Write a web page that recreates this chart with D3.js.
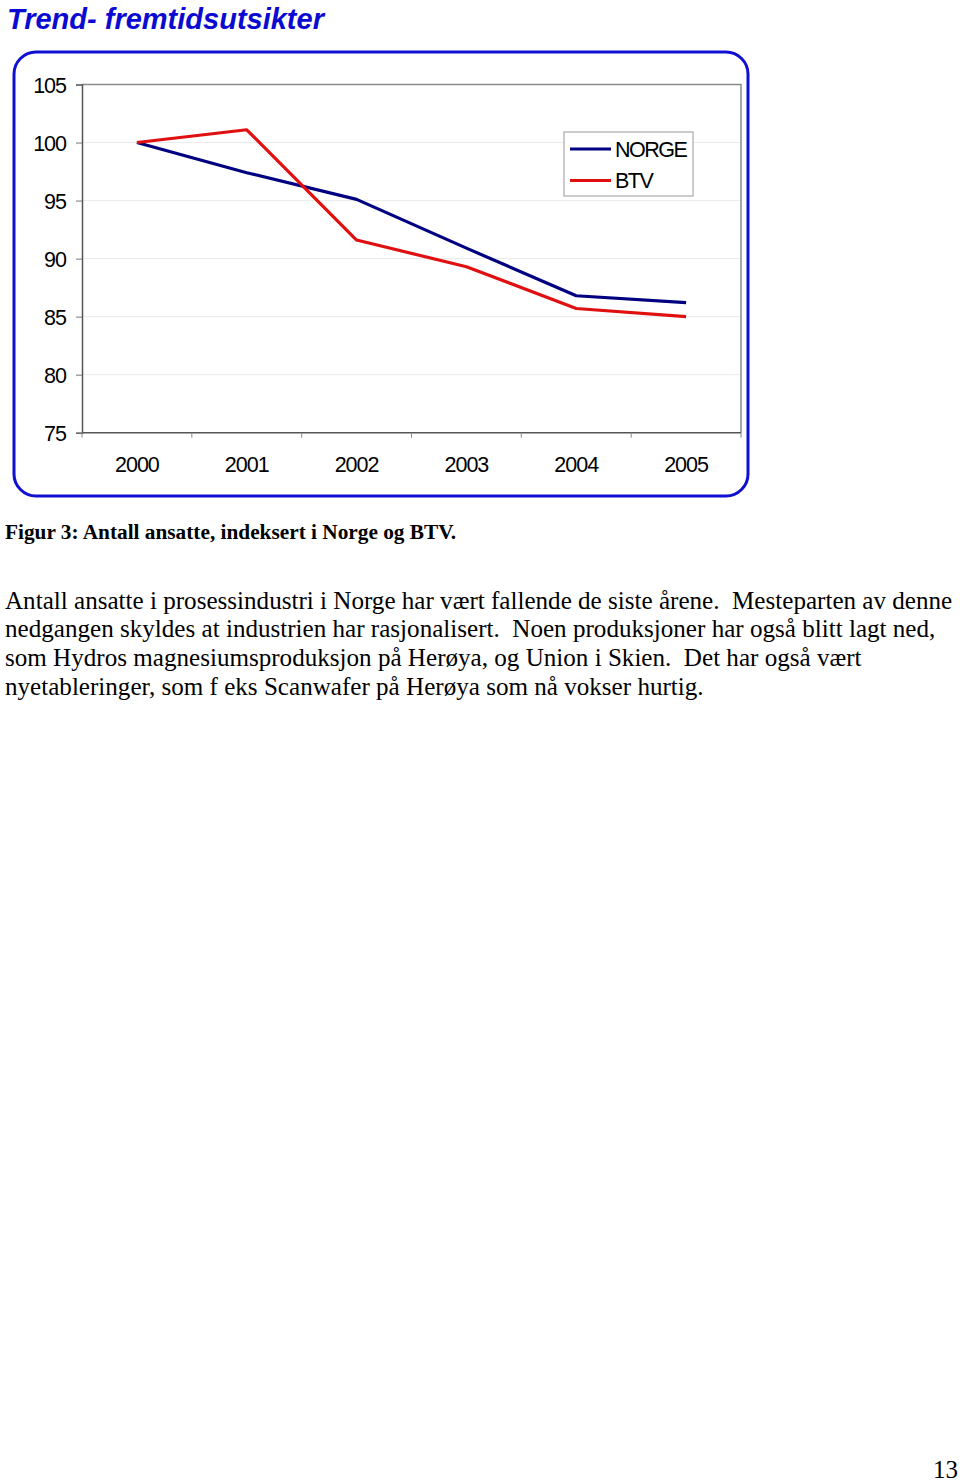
<!DOCTYPE html>
<html><head><meta charset="utf-8">
<script src="https://cdn.jsdelivr.net/npm/d3@7"></script>
<style>body{margin:0;background:#fff}svg{display:block}</style>
</head><body>
<script>
const years = ["2000","2001","2002","2003","2004","2005"];
const norge = [100, 97.4, 95.1, 90.9, 86.8, 86.2];
const btv = [100, 101.1, 91.6, 89.3, 85.7, 85.0];
const yTicks = [75, 80, 85, 90, 95, 100, 105];
const seriesNames = ["NORGE", "BTV"];
const seriesColors = ["#000080", "#e01010"];
const titleText = "Trend- fremtidsutsikter";
const captionText = "Figur 3: Antall ansatte, indeksert i Norge og BTV.";
const bodyLines = [
  "Antall ansatte i prosessindustri i Norge har vært fallende de siste årene.  Mesteparten av denne",
  "nedgangen skyldes at industrien har rasjonalisert.  Noen produksjoner har også blitt lagt ned,",
  "som Hydros magnesiumsproduksjon på Herøya, og Union i Skien.  Det har også vært",
  "nyetableringer, som f eks Scanwafer på Herøya som nå vokser hurtig."
];
const pageNum = "13";

const W = 960, H = 1482;
const svg = d3.select("body").append("svg").attr("width", W).attr("height", H);

svg.append("text").attr("x", 7).attr("y", 29)
  .attr("font-family", "Liberation Sans, Arial, sans-serif")
  .attr("font-weight", "bold").attr("font-style", "italic")
  .attr("font-size", 29).attr("fill", "#0a0ad0").text(titleText);

svg.append("rect").attr("x", 14).attr("y", 52).attr("width", 734).attr("height", 444)
  .attr("rx", 22).attr("ry", 22).attr("fill", "#fff").attr("stroke", "#1010d0").attr("stroke-width", 3);

const plot = {l: 82, t: 84.5, r: 741, b: 432.7};
const x = d3.scaleBand().domain(years).range([plot.l, plot.r]);
const y = d3.scaleLinear().domain([75, 105]).range([plot.b, plot.t]);

const g = svg.append("g");
g.selectAll("line.grid").data(yTicks.filter(d => d > 75 && d < 105)).join("line")
  .attr("x1", plot.l).attr("x2", plot.r).attr("y1", d => y(d)).attr("y2", d => y(d))
  .attr("stroke", "#ebebeb").attr("stroke-width", 1);
g.append("path").attr("d", `M${plot.l},${plot.t}H${plot.r}V${plot.b}`)
  .attr("fill", "none").attr("stroke", "#8a8a8a").attr("stroke-width", 1.5);

const yAxis = g.append("g").attr("transform", `translate(${plot.l},0)`)
  .call(d3.axisLeft(y).tickValues(yTicks).tickSize(6).tickPadding(10).tickFormat(d3.format("d")));
yAxis.select(".domain").attr("stroke", "#555").attr("stroke-width", 1.5);
yAxis.selectAll(".tick line").attr("stroke", "#777");
yAxis.selectAll("text").attr("font-family", "Liberation Sans, Arial, sans-serif")
  .attr("font-size", 21.5).attr("letter-spacing", "-1px").attr("fill", "#000").attr("dy", "0.36em");

const xAxis = g.append("g").attr("transform", `translate(0,${plot.b})`)
  .call(d3.axisBottom(x).tickSize(0).tickPadding(24));
xAxis.select(".domain").remove();
xAxis.append("line").attr("x1", plot.l).attr("x2", plot.r).attr("stroke", "#555").attr("stroke-width", 1.5);
xAxis.selectAll(".bt").data(d3.range(years.length + 1)).join("line")
  .attr("x1", i => plot.l + i * x.step()).attr("x2", i => plot.l + i * x.step())
  .attr("y1", 0).attr("y2", 5).attr("stroke", "#888");
xAxis.selectAll(".tick text").attr("font-family", "Liberation Sans, Arial, sans-serif")
  .attr("font-size", 21.5).attr("letter-spacing", "-1px").attr("fill", "#000");

const line = d3.line().x((d, i) => x(years[i]) + x.bandwidth() / 2).y(d => y(d));
[norge, btv].forEach((s, i) => {
  g.append("path").datum(s).attr("d", line).attr("fill", "none")
    .attr("stroke", seriesColors[i]).attr("stroke-width", 3.2).attr("stroke-linejoin", "round");
});

const lg = svg.append("g").attr("transform", "translate(564,132)");
lg.append("rect").attr("width", 129).attr("height", 64).attr("fill", "#fff").attr("stroke", "#aaa").attr("stroke-width", 1.2);
seriesNames.forEach((n, i) => {
  const yy = 17 + i * 31.5;
  lg.append("line").attr("x1", 6).attr("x2", 47).attr("y1", yy).attr("y2", yy)
    .attr("stroke", seriesColors[i]).attr("stroke-width", 3.2);
  lg.append("text").attr("x", 51).attr("y", yy).attr("dy", "0.36em")
    .attr("font-family", "Liberation Sans, Arial, sans-serif").attr("font-size", 21.5)
    .attr("letter-spacing", "-1.5px").text(n);
});

svg.append("text").attr("x", 5).attr("y", 539)
  .attr("font-family", "Liberation Serif, Times New Roman, serif").attr("font-weight", "bold")
  .attr("font-size", 21.3).attr("fill", "#000").text(captionText);

svg.selectAll("text.body").data(bodyLines).join("text").attr("class", "body")
  .attr("x", 5).attr("y", (d, i) => 608.5 + i * 28.8)
  .attr("font-family", "Liberation Serif, Times New Roman, serif")
  .attr("font-size", 25.1).attr("fill", "#000").attr("xml:space", "preserve")
  .style("white-space", "pre").text(d => d);

svg.append("text").attr("x", 958).attr("y", 1478).attr("text-anchor", "end")
  .attr("font-family", "Liberation Serif, Times New Roman, serif")
  .attr("font-size", 25).text(pageNum);
</script>
</body></html>
